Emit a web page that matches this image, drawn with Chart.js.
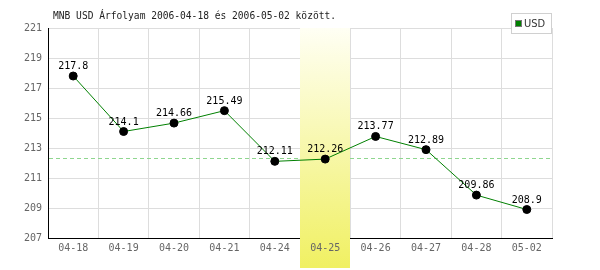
<!DOCTYPE html>
<html>
<head>
<meta charset="utf-8">
<script src="https://cdn.jsdelivr.net/npm/chart.js@4"></script>
<style>
  body { margin: 0; background: #fff; }
  #wrap { width: 600px; height: 270px; }
</style>
</head>
<body>
<div id="wrap"><canvas id="chart" width="600" height="270"></canvas></div>
<script>
// --------------------- data ---------------------
const categories = ["04-18", "04-19", "04-20", "04-21", "04-24", "04-25", "04-26", "04-27", "04-28", "05-02"];
const usdValues = [217.8, 214.1, 214.66, 215.49, 212.11, 212.26, 213.77, 212.89, 209.86, 208.9];
const valueLabels = ["217.8", "214.1", "214.66", "215.49", "212.11", "212.26", "213.77", "212.89", "209.86", "208.9"];
const yTicks = [207, 209, 211, 213, 215, 217, 219, 221];
const refLevel = 212.3;      // dashed reference line
const highlightIndex = 5;    // 04-25
const titleText = "MNB USD Árfolyam 2006-04-18 és 2006-05-02 között.";
const seriesName = "USD";

const MONO = "'DejaVu Sans Mono', 'Liberation Mono', monospace";

// --------------------- plugins ---------------------
const decorPlugin = {
  id: "decor",
  beforeDatasetsDraw(chart) {
    const { ctx, chartArea, scales } = chart;
    const x = scales.x, y = scales.y;

    // dashed reference line
    const ry = Math.round(y.getPixelForValue(refLevel));
    ctx.save();
    ctx.strokeStyle = "#8fd68f";
    ctx.lineWidth = 1;
    ctx.setLineDash([4, 3]);
    ctx.beginPath();
    ctx.moveTo(chartArea.left + 1, ry + 0.5);
    ctx.lineTo(chartArea.right, ry + 0.5);
    ctx.stroke();
    ctx.restore();

    // highlighted day band
    const cx = x.getPixelForValue(highlightIndex);
    const half = (x.getPixelForValue(1) - x.getPixelForValue(0)) / 2;
    const top = chartArea.top;
    const bottom = chart.height - 2;
    const grad = ctx.createLinearGradient(0, top, 0, bottom);
    grad.addColorStop(0, "#fffff4");
    grad.addColorStop(1, "#f0f062");
    ctx.save();
    ctx.fillStyle = grad;
    ctx.fillRect(Math.round(cx - half), top, Math.round(2 * half), bottom - top);

    // tick label over the band
    ctx.fillStyle = "#666";
    ctx.font = "10px " + MONO;
    ctx.textAlign = "center";
    ctx.textBaseline = "middle";
    ctx.fillText(categories[highlightIndex], cx, chartArea.bottom + 10);
    ctx.restore();
  },
  afterDatasetsDraw(chart) {
    const { ctx } = chart;
    const meta = chart.getDatasetMeta(0);
    ctx.save();
    ctx.fillStyle = "#000";
    ctx.font = "10px " + MONO;
    ctx.textAlign = "center";
    ctx.textBaseline = "alphabetic";
    meta.data.forEach((pt, i) => {
      ctx.fillText(valueLabels[i], pt.x, pt.y - 7);
    });
    ctx.restore();
  },
  afterDraw(chart) {
    const { ctx } = chart;
    ctx.save();
    // title
    ctx.fillStyle = "#222";
    ctx.font = "9.6px " + MONO;
    ctx.textAlign = "left";
    ctx.textBaseline = "middle";
    ctx.fillText(titleText, 53, 16);

    // legend box
    ctx.fillStyle = "#fff";
    ctx.fillRect(511, 13, 41, 20);
    ctx.strokeStyle = "#d0d0d0";
    ctx.lineWidth = 1;
    ctx.strokeRect(511.5, 13.5, 40, 20);
    ctx.fillStyle = "#008000";
    ctx.fillRect(515, 20, 7, 7);
    ctx.strokeStyle = "#777";
    ctx.strokeRect(515.5, 20.5, 6, 6);
    ctx.fillStyle = "#333";
    ctx.font = "11px 'Liberation Sans Narrow', 'DejaVu Sans Condensed', sans-serif";
    ctx.textBaseline = "middle";
    ctx.fillText(seriesName, 524, 24);
    ctx.restore();
  }
};

// --------------------- chart ---------------------
new Chart(document.getElementById("chart"), {
  type: "line",
  data: {
    labels: categories,
    datasets: [
      {
        label: seriesName,
        data: usdValues,
        borderColor: "#008000",
        borderWidth: 1,
        pointBackgroundColor: "#000",
        pointBorderColor: "#000",
        pointRadius: 4,
        tension: 0,
        fill: false,
      },
    ],
  },
  options: {
    responsive: false,
    animation: false,
    layout: { padding: { top: 28, right: 48, left: 0, bottom: 0 } },
    plugins: {
      legend: { display: false },
      title: { display: false },
      tooltip: { enabled: false },
    },
    scales: {
      x: {
        offset: true,
        grid: { offset: true, color: "#dddddd", drawTicks: false },
        border: { color: "#000", width: 1 },
        ticks: { color: "#666", font: { family: MONO, size: 10 }, padding: 4, maxRotation: 0 },
        afterFit(scale) { scale.height = 32; },
      },
      y: {
        min: yTicks[0],
        max: yTicks[yTicks.length - 1],
        afterBuildTicks(scale) { scale.ticks = yTicks.map((v) => ({ value: v })); },
        grid: { color: "#dddddd", drawTicks: false },
        border: { color: "#000", width: 1 },
        ticks: { color: "#666", font: { family: MONO, size: 10 }, padding: 6 },
        afterFit(scale) { scale.width = 48; },
      },
    },
  },
  plugins: [decorPlugin],
});
</script>
</body>
</html>
